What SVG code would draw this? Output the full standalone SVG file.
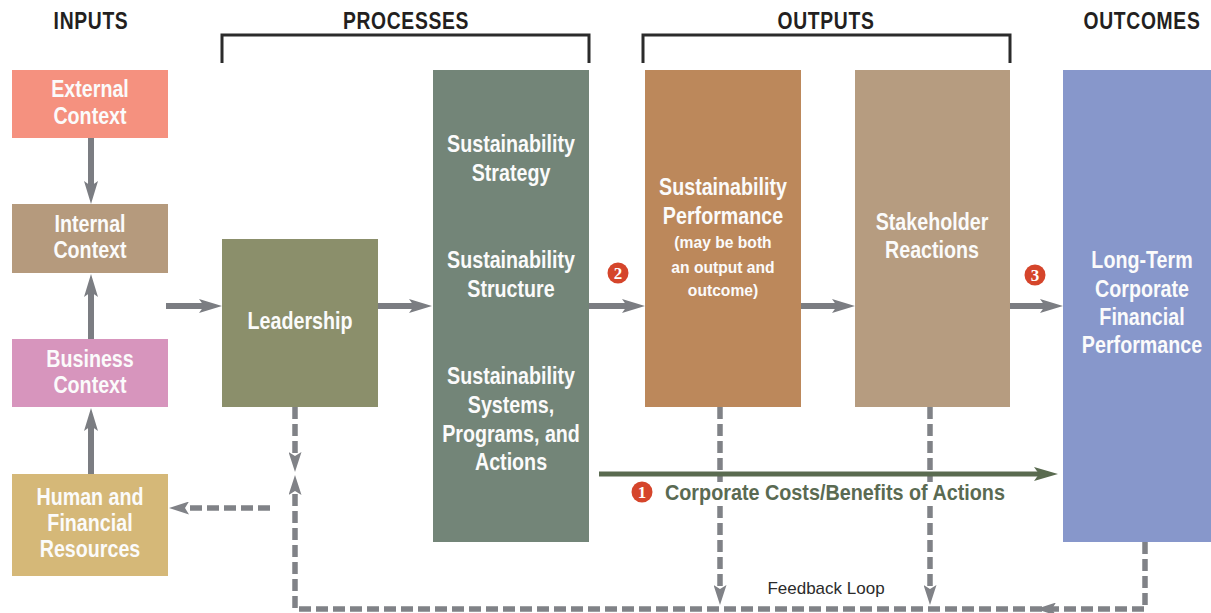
<svg xmlns="http://www.w3.org/2000/svg" width="1211" height="613" viewBox="0 0 1211 613">
<style>
  .hdr{font-family:"Liberation Sans",Arial,sans-serif;font-weight:bold;font-size:23px;fill:#231f20;text-anchor:middle;letter-spacing:0.8px}
  .lbl{font-family:"Liberation Sans",Arial,sans-serif;font-weight:bold;font-size:24px;fill:#fbfbfb;text-anchor:middle}
  .sm{font-size:17px}
  .bracket{fill:none;stroke:#2b2b2b;stroke-width:3}
  .solid{fill:none;stroke:#7b7d82;stroke-width:6}
  .dash{fill:none;stroke:#808287;stroke-width:5.5;stroke-dasharray:12 5}
  .green{fill:none;stroke:#5a6b50;stroke-width:5}
  .badge{fill:#d5452b}
  .bnum{font-family:"Liberation Serif","DejaVu Serif",serif;font-weight:bold;font-size:17px;fill:#fff;text-anchor:middle}
  .cost{font-family:"Liberation Sans",Arial,sans-serif;font-weight:bold;font-size:22px;fill:#5a6a52}
  .fb{font-family:"Liberation Sans",Arial,sans-serif;font-size:17px;fill:#2b2b2b;text-anchor:middle}
</style>
<defs>
  <marker id="ah" markerUnits="userSpaceOnUse" viewBox="0 0 23 14" refX="13" refY="7" markerWidth="23" markerHeight="14" orient="auto">
    <path d="M0,0 L23,7 L0,14 L5,7 Z" fill="#7b7d82"/>
  </marker>
  <marker id="dh" markerUnits="userSpaceOnUse" viewBox="0 0 20 13" refX="11" refY="6.5" markerWidth="20" markerHeight="13" orient="auto">
    <path d="M0,0 L20,6.5 L0,13 L4,6.5 Z" fill="#808287"/>
  </marker>
  <marker id="gh" markerUnits="userSpaceOnUse" viewBox="0 0 24 14" refX="14" refY="7" markerWidth="24" markerHeight="14" orient="auto">
    <path d="M0,0 L24,7 L0,14 L5,7 Z" fill="#5a6b50"/>
  </marker>
</defs>
<rect width="1211" height="613" fill="#ffffff"/>

<g id="headers">
  <g transform="translate(91 0) scale(0.84 1)"><text class="hdr" x="0" y="29">INPUTS</text></g>
  <g transform="translate(406 0) scale(0.84 1)"><text class="hdr" x="0" y="29">PROCESSES</text></g>
  <g transform="translate(826 0) scale(0.84 1)"><text class="hdr" x="0" y="29">OUTPUTS</text></g>
  <g transform="translate(1142 0) scale(0.84 1)"><text class="hdr" x="0" y="29">OUTCOMES</text></g>
  <path class="bracket" d="M222,63 V35 H589 V63"/>
  <path class="bracket" d="M643,63 V35 H1010 V63"/>
</g>

<g id="connectors">
  <path class="solid" d="M91,138 V194" marker-end="url(#ah)"/>
  <path class="solid" d="M91,339 V284" marker-end="url(#ah)"/>
  <path class="solid" d="M91,474 V418" marker-end="url(#ah)"/>
  <path class="solid" d="M166,306 H212" marker-end="url(#ah)"/>
  <path class="solid" d="M378,306 H422" marker-end="url(#ah)"/>
  <path class="solid" d="M589,306 H635" marker-end="url(#ah)"/>
  <path class="solid" d="M801,306 H845" marker-end="url(#ah)"/>
  <path class="solid" d="M1010,306 H1053" marker-end="url(#ah)"/>
  <path class="dash" d="M295,407 V463" marker-end="url(#dh)"/>
  <path class="dash" d="M1145,542 V609 H295 V484" marker-end="url(#dh)"/>
  <path class="dash" d="M1050,609 H1045" marker-end="url(#dh)"/>
  <path class="dash" d="M270,508 H178" marker-end="url(#dh)"/>
  <path class="dash" d="M720,407 V482"/>
  <path class="dash" d="M720,506 V596" marker-end="url(#dh)"/>
  <path class="dash" d="M930,407 V482"/>
  <path class="dash" d="M930,506 V596" marker-end="url(#dh)"/>
  <path class="green" d="M599,474 H1048" marker-end="url(#gh)"/>
  <text class="fb" x="826" y="594">Feedback Loop</text>
</g>

<g id="badge1">
  <circle class="badge" cx="642" cy="492" r="10.5"/>
  <text class="bnum" x="642" y="498">1</text>
  <g transform="translate(665 0) scale(0.9 1)"><text class="cost" x="0" y="500">Corporate Costs/Benefits of Actions</text></g>
</g>
<g id="badge2">
  <circle class="badge" cx="618" cy="273" r="10.5"/>
  <text class="bnum" x="618" y="279">2</text>
</g>
<g id="badge3">
  <circle class="badge" cx="1035" cy="275" r="10.5"/>
  <text class="bnum" x="1035" y="281">3</text>
</g>

<g id="external-context">
  <rect x="12" y="70" width="156" height="68" fill="#f5917f"/>
  <g transform="translate(90 0) scale(0.82 1)"><text class="lbl"><tspan x="0" y="97">External</tspan><tspan x="0" y="124">Context</tspan></text></g>
</g>
<g id="internal-context">
  <rect x="12" y="204" width="156" height="69" fill="#b59a7d"/>
  <g transform="translate(90 0) scale(0.82 1)"><text class="lbl"><tspan x="0" y="232">Internal</tspan><tspan x="0" y="258">Context</tspan></text></g>
</g>
<g id="business-context">
  <rect x="12" y="339" width="156" height="68" fill="#d795bd"/>
  <g transform="translate(90 0) scale(0.82 1)"><text class="lbl"><tspan x="0" y="367">Business</tspan><tspan x="0" y="393">Context</tspan></text></g>
</g>
<g id="human-financial-resources">
  <rect x="12" y="474" width="156" height="102" fill="#d5b878"/>
  <g transform="translate(90 0) scale(0.82 1)"><text class="lbl"><tspan x="0" y="505">Human and</tspan><tspan x="0" y="531">Financial</tspan><tspan x="0" y="557">Resources</tspan></text></g>
</g>
<g id="leadership">
  <rect x="222" y="239" width="156" height="168" fill="#8b8f6b"/>
  <g transform="translate(300 0) scale(0.82 1)"><text class="lbl" x="0" y="329">Leadership</text></g>
</g>
<g id="sustainability-processes">
  <rect x="433" y="70" width="156" height="472" fill="#738578"/>
  <g transform="translate(511 0) scale(0.82 1)">
    <text class="lbl"><tspan x="0" y="152">Sustainability</tspan><tspan x="0" y="181">Strategy</tspan></text>
    <text class="lbl"><tspan x="0" y="268">Sustainability</tspan><tspan x="0" y="297">Structure</tspan></text>
    <text class="lbl"><tspan x="0" y="384">Sustainability</tspan><tspan x="0" y="413">Systems,</tspan><tspan x="0" y="442">Programs, and</tspan><tspan x="0" y="470">Actions</tspan></text>
  </g>
</g>
<g id="sustainability-performance">
  <rect x="645" y="70" width="156" height="337" fill="#bc885b"/>
  <g transform="translate(723 0) scale(0.82 1)">
    <text class="lbl"><tspan x="0" y="195">Sustainability</tspan><tspan x="0" y="224">Performance</tspan></text>
  </g>
  <g transform="translate(723 0) scale(0.92 1)">
    <text class="lbl sm"><tspan x="0" y="248">(may be both</tspan><tspan x="0" y="273">an output and</tspan><tspan x="0" y="296">outcome)</tspan></text>
  </g>
</g>
<g id="stakeholder-reactions">
  <rect x="855" y="70" width="155" height="337" fill="#b69c80"/>
  <g transform="translate(932 0) scale(0.82 1)"><text class="lbl"><tspan x="0" y="230">Stakeholder</tspan><tspan x="0" y="258">Reactions</tspan></text></g>
</g>
<g id="long-term-performance">
  <rect x="1063" y="70" width="148" height="472" fill="#8797cb"/>
  <g transform="translate(1142 0) scale(0.82 1)"><text class="lbl"><tspan x="0" y="268">Long-Term</tspan><tspan x="0" y="297">Corporate</tspan><tspan x="0" y="325">Financial</tspan><tspan x="0" y="353">Performance</tspan></text></g>
</g>
</svg>
